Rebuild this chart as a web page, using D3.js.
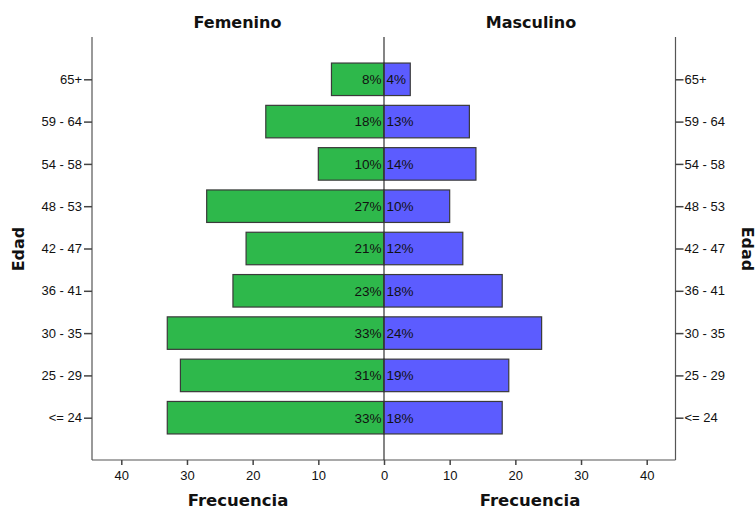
<!DOCTYPE html>
<html>
<head>
<meta charset="utf-8">
<script src="https://cdn.jsdelivr.net/npm/d3@7/dist/d3.min.js"></script>
<style>
  body { margin: 0; background: #fff; }
  svg { display: block; font-family: "Liberation Sans", Arial, sans-serif; }
</style>
</head>
<body>
<svg id="chart" width="756" height="510"></svg>
<script>
// Age groups, top to bottom
const ageGroups = ["65+", "59 - 64", "54 - 58", "48 - 53", "42 - 47", "36 - 41", "30 - 35", "25 - 29", "<= 24"];
// Counts per age group
const femenino = [8, 18, 10, 27, 21, 23, 33, 31, 33];
const masculino = [4, 13, 14, 10, 12, 18, 24, 19, 18];
const xTicks = [0, 10, 20, 30, 40];

const svg = d3.select("#chart");
const plotTop = 37, plotBottom = 460;
const leftEdge = 92, center = 384, rightEdge = 675.5;
const bodyFont = "'Liberation Sans', Arial, sans-serif";

const y = d3.scalePoint().domain(ageGroups).range([plotTop, plotBottom]).padding(1);
const barH = 32.5;

const xF = d3.scaleLinear().domain([0, 40]).range([center, 121.3]);
const xM = d3.scaleLinear().domain([0, 40]).range([center, 646.7]);

const green = "#2eb84b", blue = "#5c5cff", edge = "#3a3a3a";

// Female bars
svg.append("g").selectAll("rect").data(femenino).join("rect")
  .attr("x", d => xF(d))
  .attr("y", (d, i) => y(ageGroups[i]) - barH / 2)
  .attr("width", d => xF(0) - xF(d))
  .attr("height", barH)
  .attr("fill", green).attr("stroke", edge).attr("stroke-width", 1.2);

// Male bars
svg.append("g").selectAll("rect").data(masculino).join("rect")
  .attr("x", xM(0))
  .attr("y", (d, i) => y(ageGroups[i]) - barH / 2)
  .attr("width", d => xM(d) - xM(0))
  .attr("height", barH)
  .attr("fill", blue).attr("stroke", edge).attr("stroke-width", 1.2);

// Value labels
svg.append("g").selectAll("text").data(femenino).join("text")
  .attr("x", center - 2.5)
  .attr("y", (d, i) => y(ageGroups[i]))
  .attr("dy", "0.36em")
  .attr("text-anchor", "end")
  .attr("font-family", bodyFont)
  .attr("font-size", 13.5).attr("fill", "#111")
  .text(d => d + "%");
svg.append("g").selectAll("text").data(masculino).join("text")
  .attr("x", center + 2.5)
  .attr("y", (d, i) => y(ageGroups[i]))
  .attr("dy", "0.36em")
  .attr("text-anchor", "start")
  .attr("font-family", bodyFont)
  .attr("font-size", 13.5).attr("fill", "#111")
  .text(d => d + "%");

// Frame lines
const lineColor = "#555";
svg.append("line").attr("x1", leftEdge).attr("x2", leftEdge).attr("y1", plotTop).attr("y2", plotBottom)
  .attr("stroke", lineColor).attr("stroke-width", 1.2);
svg.append("line").attr("x1", rightEdge).attr("x2", rightEdge).attr("y1", plotTop).attr("y2", plotBottom)
  .attr("stroke", lineColor).attr("stroke-width", 1.2);
svg.append("line").attr("x1", leftEdge).attr("x2", rightEdge).attr("y1", plotBottom).attr("y2", plotBottom)
  .attr("stroke", lineColor).attr("stroke-width", 1.2);
svg.append("line").attr("x1", center).attr("x2", center).attr("y1", plotTop).attr("y2", plotBottom)
  .attr("stroke", "#333").attr("stroke-width", 1.2);

// Axes styling
function styleAxis(g) {
  g.select(".domain").remove();
  g.selectAll(".tick line").attr("stroke", "#444").attr("stroke-width", 1.5);
  g.selectAll(".tick text").attr("fill", "#111").attr("font-size", 13)
    .attr("font-family", bodyFont);
}
// Category axes
svg.append("g").attr("transform", `translate(${leftEdge},0)`)
  .call(d3.axisLeft(y).tickSize(8).tickPadding(2)).call(styleAxis);
svg.append("g").attr("transform", `translate(${rightEdge},0)`)
  .call(d3.axisRight(y).tickSize(8).tickPadding(1)).call(styleAxis);

// Frequency axes
svg.append("g").attr("transform", `translate(0,${plotBottom})`)
  .call(d3.axisBottom(xF).tickValues(xTicks).tickSize(5).tickPadding(6)).call(styleAxis);
svg.append("g").attr("transform", `translate(0,${plotBottom})`)
  .call(d3.axisBottom(xM).tickValues(xTicks.slice(1)).tickSize(5).tickPadding(6)).call(styleAxis);

// Titles
const titleStyle = t => t.attr("font-weight", "bold").attr("fill", "#111").attr("text-anchor", "middle")
  .attr("font-family", "'DejaVu Sans', Verdana, sans-serif");
svg.append("text").attr("x", 237.5).attr("y", 28).attr("font-size", 16).call(titleStyle).text("Femenino");
svg.append("text").attr("x", 531).attr("y", 28).attr("font-size", 16).call(titleStyle).text("Masculino");
svg.append("text").attr("x", 238).attr("y", 506).attr("font-size", 16.5).call(titleStyle).text("Frecuencia");
svg.append("text").attr("x", 530).attr("y", 506).attr("font-size", 16.5).call(titleStyle).text("Frecuencia");
svg.append("text").attr("transform", "translate(24,249) rotate(-90)").attr("font-size", 16)
  .call(titleStyle).text("Edad");
svg.append("text").attr("transform", "translate(742,249) rotate(90)").attr("font-size", 16)
  .call(titleStyle).text("Edad");
</script>
</body>
</html>
